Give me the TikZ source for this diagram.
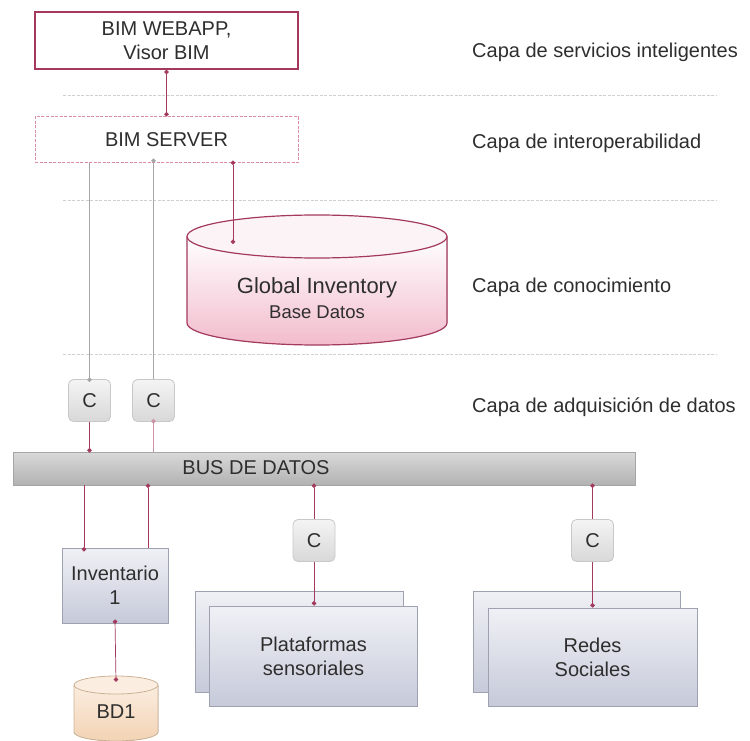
\documentclass[tikz,border=0pt]{standalone}
\usepackage{fontspec}
\setmainfont{Liberation Sans}
\usetikzlibrary{arrows.meta}
\definecolor{dpink}{HTML}{A33A5E}
\definecolor{lpink}{HTML}{D98AA4}
\definecolor{gipink}{HTML}{F2BCCD}
\definecolor{gitopc}{HTML}{FCF3F6}
\definecolor{sepgray}{HTML}{D0D0D0}
\definecolor{cboxtop}{HTML}{F4F4F4}
\definecolor{cboxbot}{HTML}{D8D8D8}
\definecolor{cboxdraw}{HTML}{C8C8C8}
\definecolor{boxtop}{HTML}{F0F1F6}
\definecolor{boxbot}{HTML}{C6CAD9}
\definecolor{boxdraw}{HTML}{9EA2B0}
\definecolor{bustop}{HTML}{D9D9D9}
\definecolor{busbot}{HTML}{B2B2B2}
\definecolor{busdraw}{HTML}{A5A5A5}
\definecolor{peachtop}{HTML}{FBEDE0}
\definecolor{peachbot}{HTML}{F2D3B4}
\definecolor{peachdraw}{HTML}{CDB296}
\definecolor{txt}{HTML}{2E2E2E}
\newcommand\mfs{\fontsize{20}{24}\selectfont}
\begin{document}
\begin{tikzpicture}[x=1pt,y=-1pt,
  every node/.style={text=txt, font=\mfs, inner sep=0pt},
  layerlbl/.style={anchor=west},
  sepline/.style={draw=sepgray, line width=0.8pt, dash pattern=on 3pt off 1.5pt},
  cbox/.style={draw=cboxdraw, line width=0.8pt, rounded corners=5pt, top color=cboxtop, bottom color=cboxbot, minimum width=42pt, minimum height=42pt},
  bluebox/.style={draw=boxdraw, line width=0.8pt, top color=boxtop, bottom color=boxbot, align=center},
  conn/.style={draw=dpink, line width=0.7pt},
  connl/.style={draw=dpink!55, line width=0.7pt},
  conng/.style={draw=gray!70, line width=0.7pt},
  dot/.tip={Circle[length=4.5pt]}
]
\useasboundingbox (0,0) rectangle (750,741);

% separators
\draw[sepline] (63,95) -- (717,95);
\draw[sepline] (63,200) -- (717,200);
\draw[sepline] (63,354) -- (717,354);

% layer labels
\node[layerlbl] (l1) at (472,52) {Capa de servicios inteligentes};
\node[layerlbl] (l2) at (472,143) {Capa de interoperabilidad};
\node[layerlbl] (l3) at (472,287) {Capa de conocimiento};
\node[layerlbl] (l4) at (472,407) {Capa de adquisición de datos};

% top boxes
\node[draw=dpink, line width=1.6pt, fill=white, minimum width=263pt, minimum height=57pt, align=center] (web) at (166.5,40.5) {BIM WEBAPP,\\Visor BIM};
\node[draw=lpink, line width=1pt, dash pattern=on 3pt off 1.5pt, minimum width=263pt, minimum height=46pt] (srv) at (166.5,140) {BIM SERVER};

% Global inventory cylinder
\fill[top color=white, bottom color=gipink] (187,236.5) -- (187,323) arc[start angle=180, end angle=0, x radius=130, y radius=22] -- (447,236.5) -- cycle;
\draw[dpink, line width=1.2pt] (187,236.5) -- (187,323) arc[start angle=180, end angle=0, x radius=130, y radius=22] -- (447,236.5);
\filldraw[fill=gitopc, draw=dpink, line width=1.2pt] (317,236.5) ellipse [x radius=130, y radius=21.5];
\node[minimum width=260pt, minimum height=130pt] (gidb) at (317,280) {};
\node[font=\fontsize{22}{26}\selectfont] (gitxt) at (317,288) {Global Inventory};
\node[font=\fontsize{18.5}{22}\selectfont] (gisub) at (317,312) {Base Datos};
\coordinate (gientry) at (233,244);

% C boxes
\node[cbox] (c1) at (89.5,400.5) {C};
\node[cbox] (c2) at (153.5,400.5) {C};
\node[cbox] (c3) at (314,540.5) {C};
\node[cbox] (c4) at (592.5,540.5) {C};

% bus
\node[draw=busdraw, line width=0.8pt, top color=bustop, bottom color=busbot, minimum width=622pt, minimum height=33pt] (bus) at (324,468.5) {};
\node (bustxt) at (256,468) {BUS DE DATOS};

% inventario
\node[bluebox, minimum width=106pt, minimum height=75pt] (inv) at (115,585.5) {Inventario\\1};

% BD1 cylinder
\fill[top color=peachtop, bottom color=peachbot] (74,685) -- (74,732) arc[start angle=180, end angle=0, x radius=42, y radius=9] -- (158,685) -- cycle;
\draw[peachdraw, line width=0.8pt] (74,685) -- (74,732) arc[start angle=180, end angle=0, x radius=42, y radius=9] -- (158,685);
\filldraw[fill=peachtop, draw=peachdraw, line width=0.8pt] (116,685) ellipse [x radius=42, y radius=9];
\node[minimum width=84pt, minimum height=65pt] (bd1) at (116,708.5) {};
\node (bd1txt) at (116,712) {BD1};

% plataformas
\node[bluebox, minimum width=208pt, minimum height=101pt] (platb) at (299,641.5) {};
\node[bluebox, minimum width=208pt, minimum height=100pt] (platf) at (313.5,656) {Plataformas\\sensoriales};

% redes
\node[bluebox, minimum width=207pt, minimum height=101pt] (redb) at (576.5,641.5) {};
\node[bluebox, minimum width=209pt, minimum height=98pt] (redf) at (592.5,657) {Redes\\Sociales};

% connectors
\draw[conn, dot-dot] (web.south) -- (srv.north);
\draw[conng, -dot] (srv.south -| c1.north) -- ([yshift=-3pt]c1.north);
\draw[conng, -dot] (c2.north) -- ([yshift=5pt]c2.north |- srv.south);
\draw[conn, dot-dot] ([yshift=3pt]srv.south -| gientry) -- (gientry);
\draw[conn, -dot] (c1.south) -- ([yshift=-1pt]c1.south |- bus.north);
\draw[connl, -dot] (c2.south |- bus.north) -- ([yshift=3pt]c2.south);
\draw[conn, -dot] ([xshift=-31pt]inv.north |- bus.south) -- ([xshift=-31pt,yshift=-4pt]inv.north);
\draw[conn, -dot] ([xshift=33pt]inv.north) -- ([xshift=33pt,yshift=2pt]inv.north |- bus.south);
\draw[conn, dot-dot] ([yshift=4pt]inv.south) -- ([yshift=-6pt]bd1.north);
\draw[conn, -dot] (c3.north) -- ([yshift=2pt]c3.north |- bus.south);
\draw[conn, -dot] (c3.south) -- (c3.south |- platf.north);
\draw[conn, -dot] (c4.north) -- ([yshift=2pt]c4.north |- bus.south);
\draw[conn, -dot] (c4.south) -- (c4.south |- redf.north);
\end{tikzpicture}
\end{document}
